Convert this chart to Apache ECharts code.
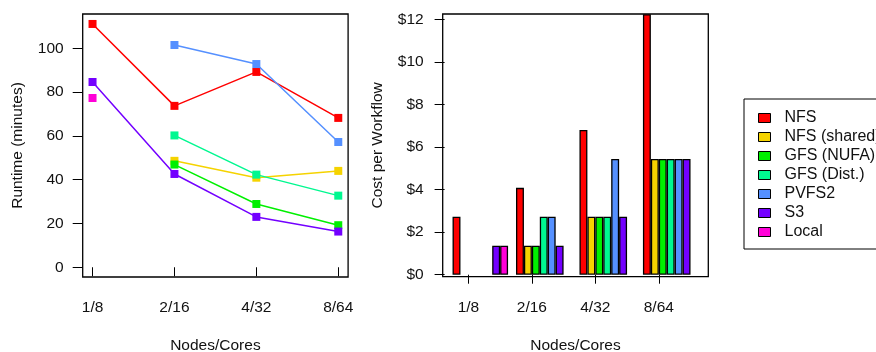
<!DOCTYPE html>
<html>
<head>
<meta charset="utf-8">
<script src="https://cdn.jsdelivr.net/npm/echarts@6/dist/echarts.min.js"></script>
<style>
html,body{margin:0;padding:0;background:#fff;}
#chart{width:876px;height:352px;}
</style>
</head>
<body>
<div id="chart"></div>
<script>
// ---- data ----
const categories = ['1/8', '2/16', '4/32', '8/64'];
const seriesNames = ['NFS', 'NFS (shared)', 'GFS (NUFA)', 'GFS (Dist.)', 'PVFS2', 'S3', 'Local'];
const seriesColors = ['#FF0000', '#F5D300', '#00F000', '#00F890', '#5590FF', '#7300FF', '#FF00D8'];

// Runtime (minutes)
const runtimeNFS       = [111.1, 73.7, 89.2, 68.2];
const runtimeNFSShared = [null, 48.6, 40.9, 44.0];
const runtimeGFSNUFA   = [null, 46.9, 28.9, 19.2];
const runtimeGFSDist   = [null, 60.2, 42.3, 32.7];
const runtimePVFS2     = [null, 101.5, 92.8, 57.2];
const runtimeS3        = [84.6, 42.6, 23.0, 16.3];
const runtimeLocal     = [77.3, null, null, null];

// Cost per workflow ($)
const costNFS       = [2.72, 4.08, 6.80, 12.24];
const costNFSShared = [null, 1.36, 2.72, 5.44];
const costGFSNUFA   = [null, 1.36, 2.72, 5.44];
const costGFSDist   = [null, 2.72, 2.72, 5.44];
const costPVFS2     = [null, 2.72, 5.44, 5.44];
const costS3        = [1.36, 1.36, 2.72, 5.44];
const costLocal     = [1.36, null, null, null];

const runtimeTicks = [0, 20, 40, 60, 80, 100];
const costTicks = [0, 2, 4, 6, 8, 10, 12];

const runtimeData = [runtimeNFS, runtimeNFSShared, runtimeGFSNUFA, runtimeGFSDist, runtimePVFS2, runtimeS3, runtimeLocal];
const costData = [costNFS, costNFSShared, costGFSNUFA, costGFSDist, costPVFS2, costS3, costLocal];

// ---- chart ----
const FONT = 'Liberation Sans';
const txt = {fontFamily: FONT, fontSize: 15.5, color: '#111'};
const chart = echarts.init(document.getElementById('chart'), null, {renderer: 'canvas'});

const axisLineStyle = {color: '#000', width: 1};

const series = [];
runtimeData.forEach((arr, i) => {
  series.push({
    name: seriesNames[i],
    type: 'line',
    xAxisIndex: 0, yAxisIndex: 0,
    data: arr.map((v, k) => [k + 1, v === null ? '-' : v]),
    symbol: 'rect', symbolSize: 8,
    showAllSymbol: true,
    connectNulls: false,
    lineStyle: {color: seriesColors[i], width: 1.5},
    itemStyle: {color: seriesColors[i]},
    emphasis: {disabled: true},
    animation: false,
    z: 2 + i
  });
});
costData.forEach((arr, i) => {
  series.push({
    name: seriesNames[i],
    type: 'bar',
    xAxisIndex: 2, yAxisIndex: 2,
    data: arr.map(v => v === null ? '-' : v),
    barGap: '0%',
    barCategoryGap: '12.5%',
    itemStyle: {color: seriesColors[i], borderColor: '#000', borderWidth: 1.3},
    emphasis: {disabled: true},
    animation: false
  });
});

const gridCommon = {outerBoundsMode: 'none', containLabel: false};

const option = {
  backgroundColor: '#fff',
  animation: false,
  textStyle: {fontFamily: FONT},
  legend: {
    orient: 'vertical',
    left: 744, top: 99,
    padding: [11, 40, 9, 14],
    borderColor: '#000', borderWidth: 1,
    itemWidth: 12, itemHeight: 9,
    itemGap: 3,
    icon: 'rect',
    textStyle: Object.assign({}, txt, {fontSize: 16, lineHeight: 16, padding: [0, 0, 0, 9]}),
    data: seriesNames.map((n, i) => ({name: n, icon: 'rect', itemStyle: {color: seriesColors[i], borderColor: '#000', borderWidth: 1}})),
    selectedMode: false
  },
  grid: [
    Object.assign({left: 82.7, top: 14, width: 265.4, height: 263, show: true, borderColor: '#000', borderWidth: 1.3, backgroundColor: 'transparent'}, gridCommon),
    Object.assign({left: 442.7, top: 14, width: 265.6, height: 262.7, show: true, borderColor: '#000', borderWidth: 1.3, backgroundColor: 'transparent'}, gridCommon),
    Object.assign({left: 448.57, top: 14, width: 253.86, height: 262.7, show: false}, gridCommon)
  ],
  xAxis: [
    {
      gridIndex: 0, type: 'value', min: 0.88, max: 4.12,
      splitLine: {show: false},
      axisLine: {show: false},
      axisTick: {show: true, length: 9, lineStyle: axisLineStyle, customValues: [1, 2, 3, 4]},
      axisLabel: Object.assign({}, txt, {margin: 23, customValues: [1, 2, 3, 4], formatter: v => categories[Math.round(v) - 1]}),
      name: 'Nodes/Cores', nameLocation: 'middle', nameGap: 61, nameTextStyle: txt
    },
    {
      gridIndex: 1, type: 'value', min: -0.24, max: 33.24,
      splitLine: {show: false},
      axisLine: {show: false},
      axisTick: {show: true, length: 9, lineStyle: axisLineStyle, customValues: [3, 11, 19, 27]},
      axisLabel: Object.assign({}, txt, {margin: 23, customValues: [3, 11, 19, 27], formatter: v => categories[Math.round((v - 3) / 8)]}),
      name: 'Nodes/Cores', nameLocation: 'middle', nameGap: 61, nameTextStyle: txt
    },
    {
      gridIndex: 2, type: 'category', data: categories, boundaryGap: true,
      show: false
    }
  ],
  yAxis: [
    {
      gridIndex: 0, type: 'value', min: -4.45, max: 115.65,
      splitLine: {show: false},
      axisLine: {show: false},
      axisTick: {show: true, length: 10, lineStyle: axisLineStyle, customValues: runtimeTicks},
      axisLabel: Object.assign({}, txt, {margin: 19, customValues: runtimeTicks}),
      name: 'Runtime (minutes)', nameLocation: 'middle', nameGap: 56.5, nameRotate: 90, nameTextStyle: txt
    },
    {
      gridIndex: 1, type: 'value', min: -0.094, max: 12.25,
      splitLine: {show: false},
      axisLine: {show: false},
      axisTick: {show: true, length: 10, lineStyle: axisLineStyle, customValues: costTicks},
      axisLabel: Object.assign({}, txt, {margin: 19, customValues: costTicks, formatter: v => '$' + v}),
      name: 'Cost per Workflow', nameLocation: 'middle', nameGap: 56.5, nameRotate: 90, nameTextStyle: txt
    },
    {
      gridIndex: 2, type: 'value', min: -0.094, max: 12.25, show: false
    }
  ],
  series: series
};
chart.setOption(option);
</script>
</body>
</html>
